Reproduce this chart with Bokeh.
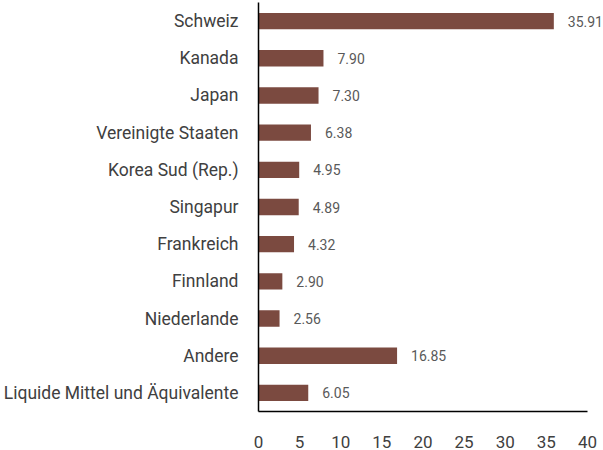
from bokeh.plotting import figure
from bokeh.models import Range1d, FixedTicker, ColumnDataSource
from bokeh.core.properties import value
from bokeh.embed import file_html
from bokeh.resources import INLINE

categories = ["Schweiz", "Kanada", "Japan", "Vereinigte Staaten", "Korea Sud (Rep.)",
              "Singapur", "Frankreich", "Finnland", "Niederlande", "Andere",
              "Liquide Mittel und Äquivalente"]
values = [35.91, 7.90, 7.30, 6.38, 4.95, 4.89, 4.32, 2.90, 2.56, 16.85, 6.05]
x_ticks = [0, 5, 10, 15, 20, 25, 30, 35, 40]

n = len(categories)
ypos = [n - 1 - i for i in range(n)]
labels = ["%.2f" % v for v in values]

src = ColumnDataSource(dict(y=ypos, v=values, lab=labels))

FONT = "Roboto"

p = figure(width=603, height=450, output_backend="svg", toolbar_location=None,
           x_range=Range1d(0, 41.95), y_range=Range1d(-0.5, 10.5),
           min_border_left=258, min_border_right=0, min_border_top=2,
           min_border_bottom=39)
p.outline_line_color = None
p.background_fill_color = "white"
p.border_fill_color = "white"
p.grid.visible = False

p.hbar(y="y", right="v", left=0, height=0.44, source=src,
       fill_color="#7B4A40", line_color=None)

p.text(x="v", y="y", text="lab", source=src, x_offset=14,
       text_baseline="middle", text_align="left",
       text_font=value(FONT), text_font_size="14px", text_color="#595959")

# axes
p.yaxis.ticker = FixedTicker(ticks=ypos)
p.yaxis.major_label_overrides = {y: c for y, c in zip(ypos, categories)}
p.yaxis.major_tick_line_color = None
p.yaxis.minor_tick_line_color = None
p.yaxis.major_label_text_font = FONT
p.yaxis.major_label_text_font_size = "17.5px"
p.yaxis.major_label_text_color = "#404040"
p.yaxis.major_label_standoff = 14
p.yaxis.axis_line_color = "black"
p.yaxis.axis_line_width = 1.5

p.xaxis.ticker = FixedTicker(ticks=x_ticks)
p.xaxis.bounds = (0, 40)
p.xaxis.major_tick_line_color = None
p.xaxis.minor_tick_line_color = None
p.xaxis.major_label_text_font = FONT
p.xaxis.major_label_text_font_size = "17px"
p.xaxis.major_label_text_color = "#404040"
p.xaxis.major_label_standoff = 18
p.xaxis.axis_line_color = "black"
p.xaxis.axis_line_width = 1.5

open("out.html", "w").write(file_html(p, INLINE))
